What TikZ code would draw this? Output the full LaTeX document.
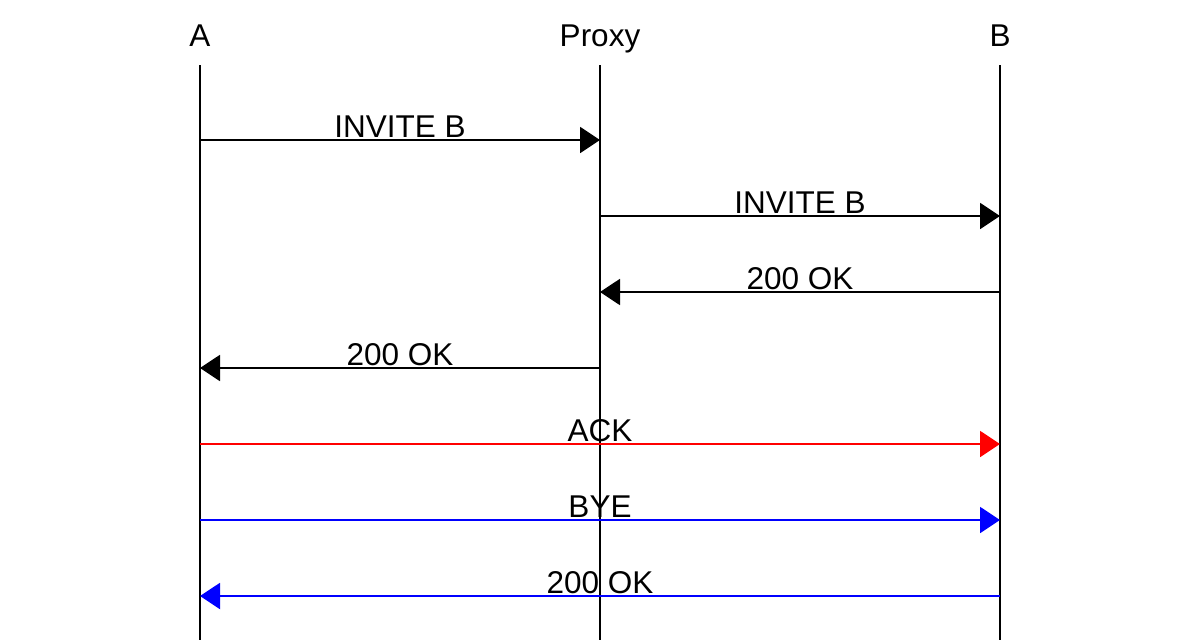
\documentclass[tikz,border=0pt]{standalone}
\usepackage{fontspec}
\setmainfont{Liberation Sans}
\usetikzlibrary{arrows.meta, positioning}

\begin{document}
\begin{tikzpicture}[
  x=1pt, y=-1pt,
  actor/.style={anchor=base, inner sep=0pt, font=\fontsize{31.5}{37}\selectfont},
  lifeline/.style={draw=black, line width=2pt},
  msg/.style={line width=2pt, -{Triangle[length=20pt, width=26pt]}},
  msglabel/.style={midway, anchor=base, yshift=3pt, inner sep=0pt,
                   font=\fontsize{31.5}{37}\selectfont}
]
\useasboundingbox (0,0) rectangle (1200,640);

% actors
\node[actor] (a) at (200,46) {A};
\node[actor] (p) at (600,46) {Proxy};
\node[actor] (b) at (1000,46) {B};

% lifelines
\coordinate (atop) at (200,65);
\coordinate (ptop) at (600,65);
\coordinate (btop) at (1000,65);
\coordinate (abot) at (200,640);
\coordinate (pbot) at (600,640);
\coordinate (bbot) at (1000,640);
\draw[lifeline] (atop) -- (abot);
\draw[lifeline] (ptop) -- (pbot);
\draw[lifeline] (btop) -- (bbot);

% message points
\coordinate (a1) at (200,140); \coordinate (p1) at (600,140);
\coordinate (p2) at (600,216); \coordinate (b2) at (1000,216);
\coordinate (b3) at (1000,292); \coordinate (p3) at (600,292);
\coordinate (p4) at (600,368); \coordinate (a4) at (200,368);
\coordinate (a5) at (200,444); \coordinate (b5) at (1000,444);
\coordinate (a6) at (200,520); \coordinate (b6) at (1000,520);
\coordinate (b7) at (1000,596); \coordinate (a7) at (200,596);

% messages
\draw[msg] (a1) -- node[msglabel]{INVITE B} (p1);
\draw[msg] (p2) -- node[msglabel]{INVITE B} (b2);
\draw[msg] (b3) -- node[msglabel]{200 OK} (p3);
\draw[msg] (p4) -- node[msglabel]{200 OK} (a4);
\draw[msg, red] (a5) -- node[msglabel, text=black]{ACK} (b5);
\draw[msg, blue] (a6) -- node[msglabel, text=black]{BYE} (b6);
\draw[msg, blue] (b7) -- node[msglabel, text=black]{200 OK} (a7);

\end{tikzpicture}
\end{document}
